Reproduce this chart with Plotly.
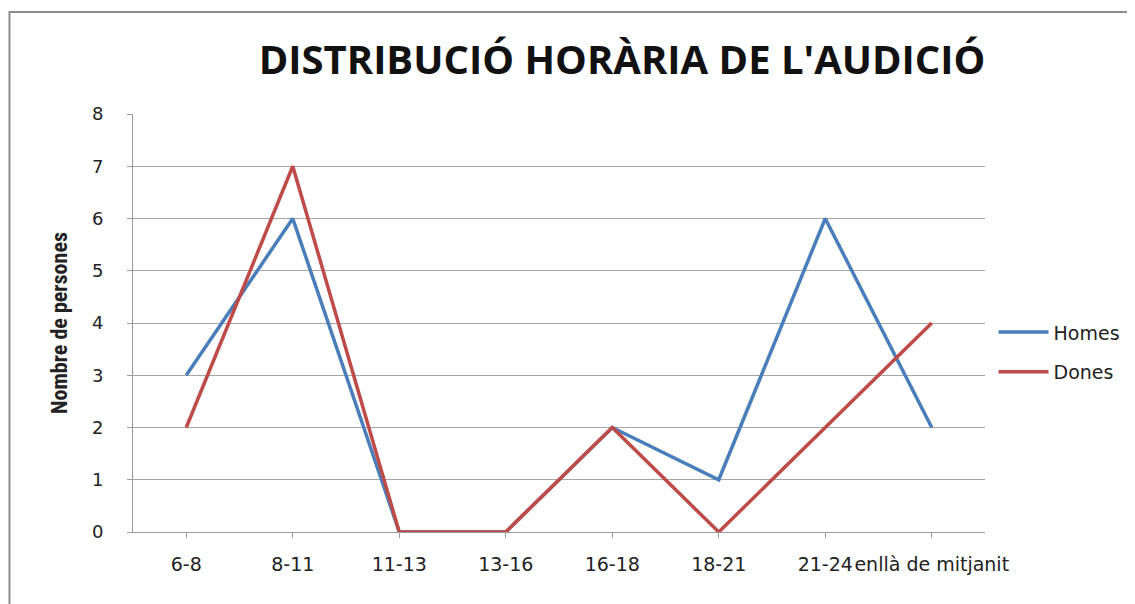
import plotly.graph_objects as go

franges = ["6-8", "8-11", "11-13", "13-16", "16-18", "18-21", "21-24", "enllà de mitjanit"]
homes = [3, 6, 0, 0, 2, 1, 6, 2]
dones = [2, 7, 0, 0, 2, 0, 2, 4]
y_ticks = [0, 1, 2, 3, 4, 5, 6, 7, 8]

tick_font = "DejaVu Sans, Open Sans, sans-serif"

fig = go.Figure()
fig.add_trace(go.Scatter(x=franges, y=homes, name="Homes", mode="lines", legendgroup="h",
                         line=dict(color="#4A7EBB", width=3.5)))
fig.add_trace(go.Scatter(x=franges, y=dones, name="Dones", mode="lines", legendgroup="d",
                         line=dict(color="#BE4B48", width=3.5)))

fig.update_layout(
    width=1135, height=604,
    paper_bgcolor="white", plot_bgcolor="white",
    margin=dict(l=125, r=158, t=106, b=80, autoexpand=False),
    font=dict(family="Open Sans, Liberation Sans, sans-serif", size=17, color="#222"),
    title=dict(text="<b>DISTRIBUCIÓ HORÀRIA DE L'AUDICIÓ</b>",
               x=0.574, xanchor="center", xref="paper", y=0.914, yanchor="middle",
               font=dict(size=40, color="#111")),
    legend=dict(x=1.01, y=0.43, xanchor="left", yanchor="middle",
                font=dict(size=19, family=tick_font), itemwidth=50, tracegroupgap=12,
                bgcolor="rgba(0,0,0,0)"),
    shapes=[dict(type="rect", xref="paper", yref="paper",
                 x0=-0.145, x1=1.2, y0=-0.21, y1=1.244,
                 line=dict(color="#8c8c8c", width=2), layer="below")],
)
fig.update_xaxes(type="category", range=[-0.5, 7.5], showgrid=False, automargin=False,
                 showline=True, linecolor="#9a9a9a", linewidth=1,
                 ticks="outside", ticklen=5, tickcolor="#9a9a9a", tickangle=0,
                 ticklabelstandoff=10, tickfont=dict(size=19, family=tick_font))
fig.update_yaxes(range=[0, 8], tickvals=y_ticks, showgrid=True, automargin=False,
                 gridcolor="#a6a6a6", gridwidth=1,
                 showline=True, linecolor="#9a9a9a", linewidth=1,
                 ticks="outside", ticklen=5, tickcolor="#9a9a9a",
                 ticklabelstandoff=20, zeroline=False, tickfont=dict(size=18, family=tick_font),
                 title=dict(text="<b>Nombre de persones</b>", standoff=18,
                            font=dict(size=22, family="Liberation Sans Narrow, Roboto Condensed, Roboto, sans-serif")))

fig.write_html("out.html")
